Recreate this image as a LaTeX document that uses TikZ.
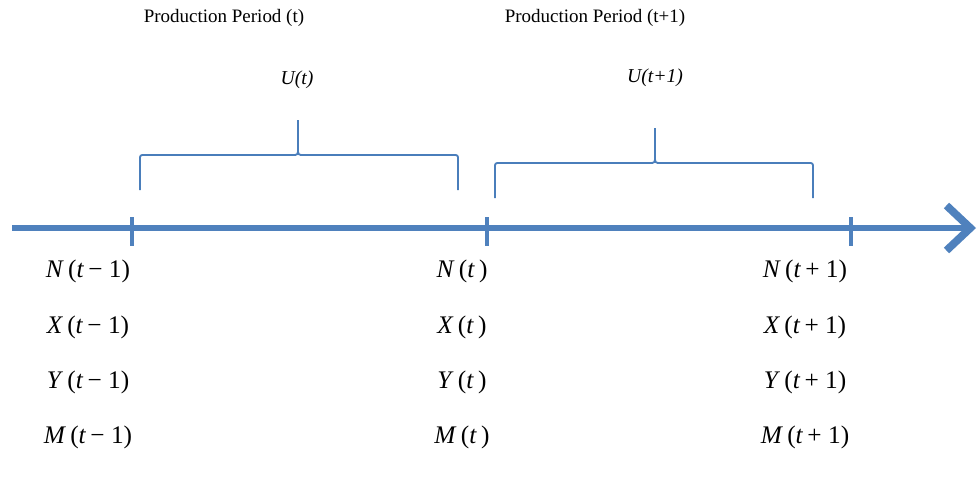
\documentclass[tikz,border=0pt]{standalone}
\usepackage{fontspec}
\setmainfont{Liberation Serif}
\usepackage{tikz}
\usetikzlibrary{arrows.meta, positioning}
\definecolor{axisblue}{HTML}{4F81BD}
\definecolor{braceblue}{HTML}{4A7EBB}
\newcommand{\tv}[2]{\textit{#1}\,(\textit{t}\,#2)}

\begin{document}
\begin{tikzpicture}[x=0.025cm, y=-0.025cm,
  node distance=0.75cm,
  period/.style={font=\fontsize{13.5}{15}\selectfont, inner sep=0pt},
  util/.style={font=\fontsize{14}{16}\selectfont\itshape, inner sep=0pt},
  lbl/.style={font=\fontsize{18}{20}\selectfont, inner sep=0pt, text height=13pt, text depth=4.5pt},
  axis/.style={line width=4.3pt, color=axisblue,
    -{Straight Barb[length=17pt, width=32pt, line width=5.5pt]}},
  tickmark/.style={line width=3.5pt, color=axisblue},
  brc/.style={line width=1.3pt, color=braceblue}]
  \useasboundingbox (0,0) rectangle (979,480);

  % period titles
  \node[period] (p1) at (224,18) {Production Period (t)};
  \node[period] (p2) at (595,18) {Production Period (t+1)};
  \node[util] (u1) at (297,80) {U(t)};
  \node[util] (u2) at (655,78) {U(t+1)};

  % braces
  \draw[brc] (140,190) -- (140,160) .. controls (140,155) .. (145,155) -- (292,155)
    .. controls (298,155) .. (298,148) -- (298,120);
  \draw[brc] (298,148) .. controls (298,155) .. (304,155) -- (453,155)
    .. controls (458,155) .. (458,160) -- (458,190);
  \draw[brc] (495,198) -- (495,168) .. controls (495,163) .. (500,163) -- (649,163)
    .. controls (655,163) .. (655,156) -- (655,128);
  \draw[brc] (655,156) .. controls (655,163) .. (661,163) -- (808,163)
    .. controls (813,163) .. (813,168) -- (813,198);

  % time axis
  \coordinate (start) at (12,228);
  \coordinate (end) at (976,228);
  \draw[axis] (start) -- (end);
  \foreach \x/\n in {132/k0,487/k1,851/k2}{
    \coordinate (\n) at (\x,228);
    \draw[tickmark] (\n) ++(0,-11) -- ++(0,29);
  }

  % stocks at each date
  \node[lbl] (N0) at (88,272) {\tv{N}{− 1}};
  \node[lbl,below=of N0] (X0) {\tv{X}{− 1}};
  \node[lbl,below=of X0] (Y0) {\tv{Y}{− 1}};
  \node[lbl,below=of Y0] (M0) {\tv{M}{− 1}};

  \node[lbl] (N1) at (462,272) {\tv{N}{}};
  \node[lbl,below=of N1] (X1) {\tv{X}{}};
  \node[lbl,below=of X1] (Y1) {\tv{Y}{}};
  \node[lbl,below=of Y1] (M1) {\tv{M}{}};

  \node[lbl] (N2) at (805,272) {\tv{N}{+ 1}};
  \node[lbl,below=of N2] (X2) {\tv{X}{+ 1}};
  \node[lbl,below=of X2] (Y2) {\tv{Y}{+ 1}};
  \node[lbl,below=of Y2] (M2) {\tv{M}{+ 1}};
\end{tikzpicture}
\end{document}
